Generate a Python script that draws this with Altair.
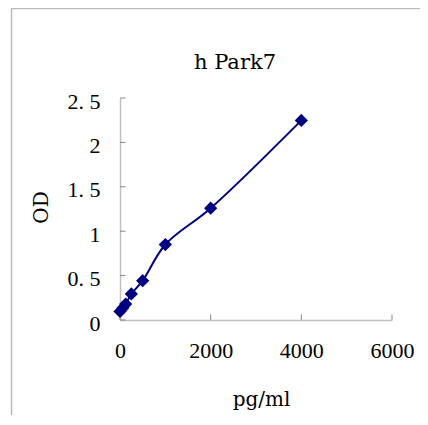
import altair as alt
import pandas as pd

# Standard curve values
conc = [0, 62.5, 125, 250, 500, 1000, 2000, 4000]
od = [0.097, 0.135, 0.18, 0.293, 0.443, 0.85, 1.259, 2.248]

x_ticks = [0, 2000, 4000, 6000]
y_ticks = [0, 0.5, 1, 1.5, 2, 2.5]

chart_title = "h Park7"
x_title = "pg/ml"
y_title = "OD"

W, H = 272, 222
NAVY = "#000080"

df = pd.DataFrame({"conc": conc, "od": od})
xt = pd.DataFrame({"v": x_ticks})
yt = pd.DataFrame({"v": y_ticks})
one = pd.DataFrame({"t": [chart_title]})

xscale = alt.Scale(domain=[0, 6000], nice=False)
yscale = alt.Scale(domain=[0, 2.5], nice=False)

xaxis = alt.Axis(
    values=x_ticks, format="d", title=x_title, labelPadding=20,
    labelFlush=False, labelOverlap=False,
    titleX=141, titleY=85, titleAlign="center", titleBaseline="alphabetic",
)
yaxis = alt.Axis(
    values=y_ticks, format="~g", title=y_title, labelPadding=20, labelOffset=3,
    labelFlush=False, labelOverlap=False,
    labelExpr="replace(datum.label, '.', '. ')",
    titleX=-73, titleY=109, titleAlign="center", titleBaseline="alphabetic",
    titleAngle=270,
)

base = alt.Chart(df)
line = base.mark_line(color=NAVY, strokeWidth=2, interpolate="catmull-rom").encode(
    x=alt.X("conc:Q", scale=xscale, axis=xaxis),
    y=alt.Y("od:Q", scale=yscale, axis=yaxis),
)
pts = base.mark_point(shape="diamond", filled=True, color=NAVY, size=175, opacity=1).encode(
    x=alt.X("conc:Q", scale=xscale),
    y=alt.Y("od:Q", scale=yscale),
)

xtick_marks = alt.Chart(xt).mark_rule(color="#888888", strokeWidth=1).encode(
    x=alt.X("v:Q", scale=xscale),
    y=alt.value(H),
    y2=alt.value(H - 5.5),
)
ytick_marks = alt.Chart(yt).mark_rule(color="#888888", strokeWidth=1).encode(
    y=alt.Y("v:Q", scale=yscale),
    x=alt.value(0),
    x2=alt.value(5.5),
)

frame_left = alt.Chart(one).mark_rule(color="#bbbbbb", strokeWidth=1.5).encode(
    x=alt.value(-108.5), y=alt.value(-89.5), y2=alt.value(H + 120)
)
frame_top = alt.Chart(one).mark_rule(color="#bbbbbb", strokeWidth=1.5).encode(
    y=alt.value(-89.5), x=alt.value(-108.5), x2=alt.value(W + 60)
)

title_txt = alt.Chart(one).mark_text(
    font="DejaVu Serif", fontSize=21, color="black", align="center", baseline="alphabetic"
).encode(text="t:N", x=alt.value(115), y=alt.value(-29))

chart = alt.layer(
    frame_left, frame_top, xtick_marks, ytick_marks, line, pts, title_txt
).properties(
    width=W, height=H,
    autosize=alt.AutoSizeParams(type="none"),
    padding={"left": 112, "top": 90, "right": 28, "bottom": 95},
).configure_view(stroke=None).configure_axis(
    grid=False, tickSize=0, domainColor="#c0c0c0", domainWidth=1.5,
    labelFont="Liberation Serif", labelFontSize=22, labelColor="black",
    titleFont="DejaVu Serif", titleFontSize=20, titleFontWeight="normal", titleColor="black",
)

chart.save("out.html", embed_options={"renderer": "svg", "actions": False})
